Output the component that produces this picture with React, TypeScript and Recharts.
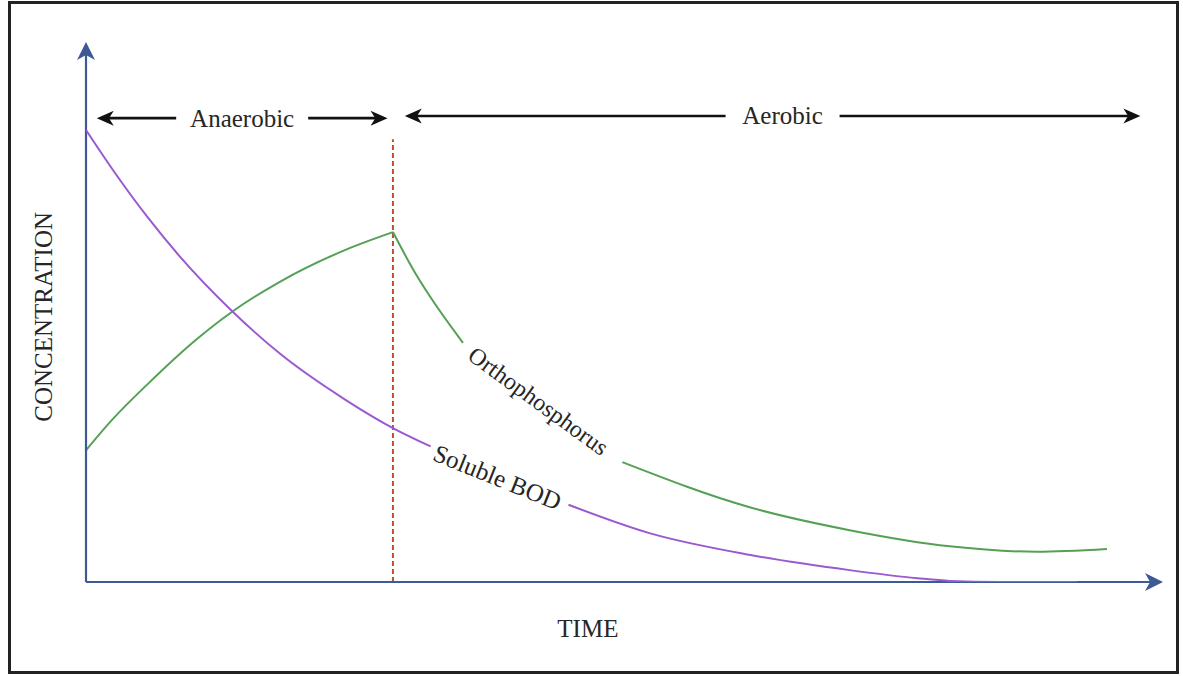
import { ComposedChart, Line, XAxis, YAxis, ReferenceLine, ReferenceDot } from 'recharts';

/* eslint-disable @typescript-eslint/no-explicit-any */

// time runs 0..100 along the x axis, concentration 0..100 up the y axis (no units in the figure)
const bodTime = [0, 2.5, 5.7, 8.7, 13.6, 18.0, 24.2, 28.5, 32.0, 38, 44.8, 52.4, 61.7, 70.9, 77.2, 80.2, 84.9, 92.0];
const bodConc = [83.7, 76.3, 67.6, 60.3, 50.1, 42.3, 33.6, 28.5, 25.1, null, 14.3, 9.0, 5.0, 2.2, 0.7, 0.2, 0, 0];

const orthoRiseTime = [0, 2.5, 5.7, 10.3, 13.6, 18.0, 24.2, 28.5];
const orthoRiseConc = [24.4, 30.2, 36.6, 45.0, 50.1, 55.6, 61.6, 64.8];

const orthoFallTime = [28.5, 30.4, 31.9, 35.0, 42, 49.8, 61.7, 70.9, 80.2, 88.3, 94.8];
const orthoFallConc = [64.8, 57.8, 53.0, 44.3, null, 22.2, 13.8, 9.6, 6.6, 5.6, 6.1];

const switchTime = 28.5;
const switchTop = 82;

const phaseNames = ['Anaerobic', 'Aerobic'];
const phaseStart = [1.0, 29.6];
const phaseEnd = [28.0, 97.9];
const phaseLevel = [85.9, 86.3];

const curveLabels = ['Orthophosphorus', 'Soluble BOD'];
const curveLabelTime = [42.0, 38.2];
const curveLabelConc = [33.5, 19.4];

const axisTitles = ['TIME', 'CONCENTRATION'];

const bodData = bodTime.map((t, i) => ({ t, v: bodConc[i] }));
const riseData = orthoRiseTime.map((t, i) => ({ t, v: orthoRiseConc[i] }));
const fallData = orthoFallTime.map((t, i) => ({ t, v: orthoFallConc[i] }));

const FONT = "'Liberation Serif', 'Times New Roman', serif";
const INK = '#262626';
const AXIS = '#3d5a94';

// stealth style arrow head with its tip at (x, y), pointing along (ux, uy)
function head(x: number, y: number, ux: number, uy: number, len: number, half: number) {
  const nx = -uy;
  const ny = ux;
  const bx = x - ux * len;
  const by = y - uy * len;
  const pts = [
    [x, y],
    [bx + nx * half, by + ny * half],
    [x - ux * len * 0.72, y - uy * len * 0.72],
    [bx - nx * half, by - ny * half],
  ];
  return pts.map((p) => p.join(',')).join(' ');
}

function AxisArrow(props: any) {
  const { x1, y1, x2, y2 } = props;
  const d = Math.hypot(x2 - x1, y2 - y1) || 1;
  const ux = (x2 - x1) / d;
  const uy = (y2 - y1) / d;
  return (
    <g>
      <line x1={x1} y1={y1} x2={x2 - ux * 12} y2={y2 - uy * 12} stroke={AXIS} strokeWidth={2.2} />
      <polygon points={head(x2, y2, ux, uy, 18, 9)} fill={AXIS} />
    </g>
  );
}

function phaseShape(name: string, shift: number, halfGap: number) {
  return (props: any) => {
    const { x1, y1, x2 } = props;
    const mid = (x1 + x2) / 2 + shift;
    return (
      <g>
        <line x1={x1 + 10} y1={y1} x2={mid - halfGap} y2={y1} stroke="#111" strokeWidth={2.6} />
        <line x1={mid + halfGap} y1={y1} x2={x2 - 10} y2={y1} stroke="#111" strokeWidth={2.6} />
        <polygon points={head(x1, y1, -1, 0, 17, 7.5)} fill="#111" />
        <polygon points={head(x2, y1, 1, 0, 17, 7.5)} fill="#111" />
        <text x={mid} y={y1} textAnchor="middle" dominantBaseline="central" fontFamily={FONT} fontSize={25} fill={INK}>
          {name}
        </text>
      </g>
    );
  };
}

function textShape(text: string, angle: number, size: number, dx = 0, dy = 0) {
  return (props: any) => {
    const cx = props.cx + dx;
    const cy = props.cy + dy;
    return (
      <text
        x={cx}
        y={cy}
        textAnchor="middle"
        dominantBaseline="central"
        fontFamily={FONT}
        fontSize={size}
        fill={INK}
        transform={`rotate(${angle} ${cx} ${cy})`}
      >
        {text}
      </text>
    );
  };
}

const phaseShift = [0, 10];
const phaseHalfGap = [66, 57];

export default function App() {
  return (
    <div style={{ position: 'relative', width: 1183, height: 676, background: '#fff' }}>
      <style>{'body{margin:0}'}</style>
      <div
        style={{
          position: 'absolute',
          left: 8,
          top: 1,
          width: 1171,
          height: 673,
          border: '3px solid #222',
          boxSizing: 'border-box',
        }}
      />
      <div style={{ position: 'absolute', left: 0, top: 0 }}>
        <ComposedChart width={1183} height={676} margin={{ top: 42, right: 20, bottom: 94, left: 86 }}>
          <XAxis type="number" dataKey="t" domain={[0, 100]} hide allowDataOverflow />
          <YAxis type="number" dataKey="v" domain={[0, 100]} hide allowDataOverflow />

          <ReferenceLine
            segment={[{ x: switchTime, y: 0 }, { x: switchTime, y: switchTop }]}
            stroke="#b4552c"
            strokeWidth={2}
            strokeDasharray="5 3"
            ifOverflow="visible"
          />

          <Line data={riseData} dataKey="v" type="monotone" stroke="#55a055" strokeWidth={2}
            dot={false} activeDot={false} connectNulls={false} isAnimationActive={false} />
          <Line data={fallData} dataKey="v" type="monotone" stroke="#55a055" strokeWidth={2}
            dot={false} activeDot={false} connectNulls={false} isAnimationActive={false} />

          <ReferenceLine segment={[{ x: 0, y: 0 }, { x: 0, y: 100 }]} shape={AxisArrow} ifOverflow="visible" />
          <ReferenceLine segment={[{ x: 0, y: 0 }, { x: 100, y: 0 }]} shape={AxisArrow} ifOverflow="visible" />

          <Line data={bodData} dataKey="v" type="monotone" stroke="#9b59d0" strokeWidth={2}
            dot={false} activeDot={false} connectNulls={false} isAnimationActive={false} />

          {phaseNames.map((name, i) => (
            <ReferenceLine
              key={name}
              segment={[{ x: phaseStart[i], y: phaseLevel[i] }, { x: phaseEnd[i], y: phaseLevel[i] }]}
              shape={phaseShape(name, phaseShift[i], phaseHalfGap[i])}
              ifOverflow="visible"
            />
          ))}

          <ReferenceDot x={curveLabelTime[0]} y={curveLabelConc[0]} r={0} ifOverflow="visible"
            shape={textShape(curveLabels[0], 36, 24)} />
          <ReferenceDot x={curveLabelTime[1]} y={curveLabelConc[1]} r={0} ifOverflow="visible"
            shape={textShape(curveLabels[1], 22, 25)} />

          <ReferenceDot x={46.6} y={0} r={0} ifOverflow="visible" shape={textShape(axisTitles[0], 0, 25, 0, 46)} />
          <ReferenceDot x={0} y={49.1} r={0} ifOverflow="visible" shape={textShape(axisTitles[1], -90, 25, -42, 0)} />
        </ComposedChart>
      </div>
    </div>
  );
}
